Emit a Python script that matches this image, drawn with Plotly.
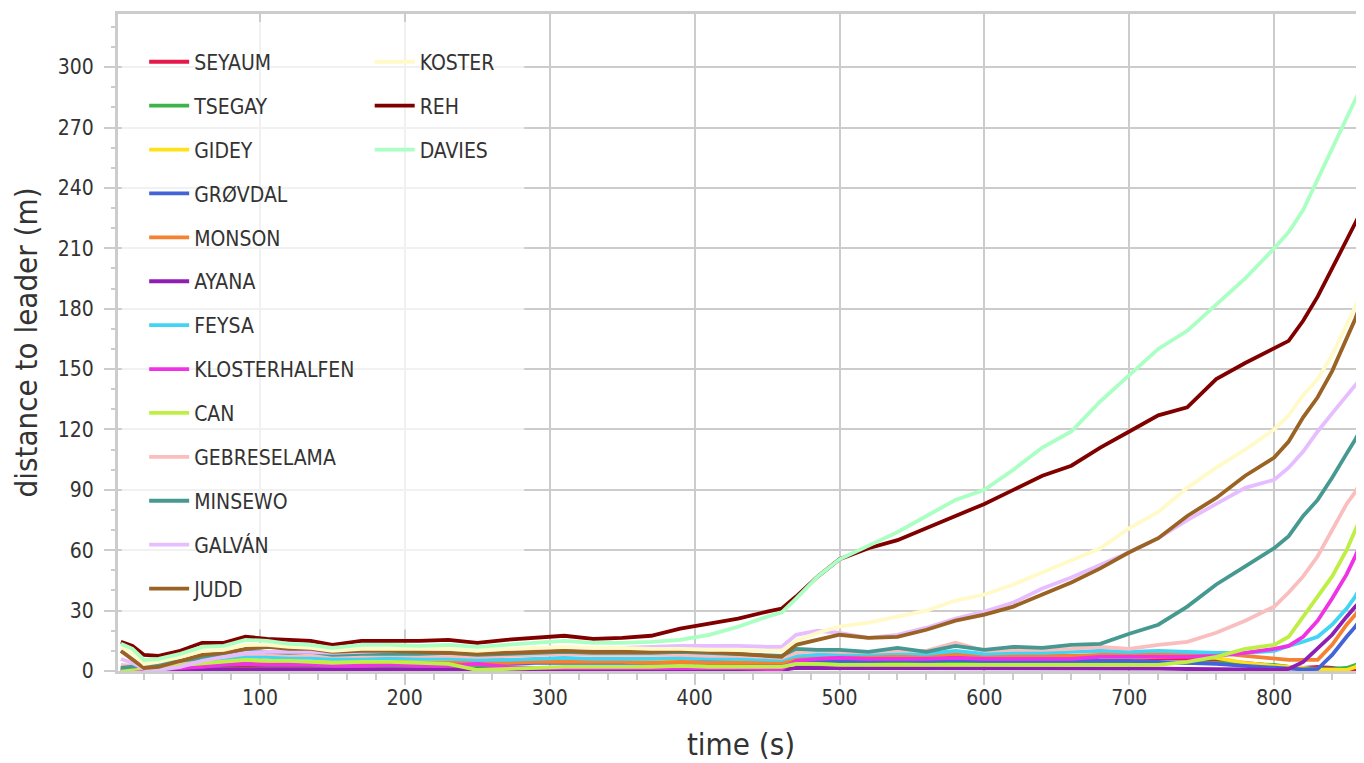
import plotly.graph_objects as go

time_s = [4, 12, 20, 30, 45, 60, 75, 90, 105, 120, 135, 150, 170, 190, 210, 230, 250, 270, 290, 310,
          330, 350, 370, 390, 410, 430, 450, 460, 470, 485, 500, 520, 540, 560, 580, 600, 620, 640, 660, 680,
          700, 720, 740, 760, 780, 800, 810, 820, 830, 840, 850, 856, 862]

runners = ["SEYAUM", "TSEGAY", "GIDEY", "GRØVDAL", "MONSON", "AYANA", "FEYSA", "KLOSTERHALFEN",
           "CAN", "GEBRESELAMA", "MINSEWO", "GALVÁN", "JUDD", "KOSTER", "REH", "DAVIES"]

seyaum = [1, 1, 0.5, 0.5, 1, 1.5, 1.5, 2, 2, 2, 2, 1.5, 1.5, 1.5, 1.5, 1.5, 1, 1, 1, 1,
          1, 1, 1, 1, 1, 1, 1, 1, 5, 5.5, 5.5, 5.5, 5.5, 5.5, 7, 5.5, 6, 5.5, 6, 6,
          6, 6.5, 6, 5, 4, 2.5, 2, 1.5, 2, 1.5, 0.5, 0, 0]
tsegay = [0.5, 0.5, 0.5, 0.5, 1, 1, 1, 1, 1, 1, 1, 1, 1, 1, 1, 1, 1.5, 1.5, 1.5, 1.5,
          2, 2, 2, 2, 2.5, 3, 3, 3, 3.5, 3.5, 3.5, 3.5, 3.5, 3.5, 4, 3.5, 3.5, 3.5, 3.5, 3.5,
          3.5, 4, 4, 4, 3.5, 3, 2, 1.5, 1, 1, 1.5, 3, 4]
gidey = [2, 2, 3, 2.5, 3, 4, 4.5, 5, 5, 5, 4.5, 4.5, 4.5, 5, 5, 5, 4.5, 4.5, 5, 5,
         5, 5, 5, 5, 5, 5, 4.5, 4.5, 7, 7.5, 7.5, 7, 7, 7, 9, 7, 7, 7, 7, 6.5,
         6.5, 7, 7.5, 6.5, 4, 2.5, 2, 1.5, 0.5, 0.3, 0.5, 2, 5]
grovdal = [0.5, 1, 1, 1.5, 2.5, 3, 3.5, 4, 4, 4, 3.5, 3.5, 3.5, 4, 4, 3.5, 3.5, 3.5, 4, 4,
           4, 4, 4, 4, 4.5, 4, 3.5, 3.5, 5, 5.5, 5, 5, 5.5, 5, 5.5, 5, 5, 5, 5, 5,
           5, 4.5, 4, 3.5, 2.5, 1.5, 1, 0.8, 1, 8, 17, 22, 28]
monson = [1, 1, 1, 1.5, 2.5, 3.5, 4, 4.5, 4.5, 4.5, 4, 4, 4, 4.5, 4, 4, 4, 4, 4.5, 4.5,
          4.5, 4.5, 4, 4.5, 4, 4, 4, 4, 6, 7, 7, 7.5, 7, 7, 8.5, 7, 7.5, 7.5, 7.5, 8,
          8.5, 8, 8.5, 9, 7.5, 6, 5.5, 5.5, 5.5, 13, 23, 28, 33]
ayana = [0.8, 0.8, 0.5, 0.5, 0.5, 0.5, 0.5, 0.5, 0.5, 0.5, 0.5, 0.5, 0.5, 0.5, 0.5, 0.5, 0.5, 0.5, 0.5, 0.5,
         0.5, 0.5, 0.5, 0.5, 0.5, 0.5, 0.5, 0.5, 1.5, 1.5, 1.5, 1.5, 1.2, 1.2, 1.2, 1.2, 1.2, 1.2, 1.2, 1.2,
         1.2, 1.2, 1, 1, 0.8, 0.5, 1, 4.5, 11, 18, 27, 32, 36]
feysa = [2, 2, 1.5, 2.5, 3.5, 5, 6, 7, 7, 6.5, 6.5, 6, 6, 6.5, 6, 6, 5.5, 5.5, 6, 6.5,
         6, 6, 6, 6.5, 6, 6, 5.5, 5.5, 7.5, 8, 8.5, 8.5, 9, 8.5, 10, 8.5, 9, 9, 9.5, 10,
         9.5, 10, 9.5, 9, 9, 10, 12.5, 14.5, 17, 23, 31, 37, 45]
klosterhalfen = [0.5, 0.5, 0.5, 1, 1.5, 2, 3, 3.5, 3, 3, 3, 2.5, 2.5, 3, 2.5, 2.5, 3.5, 2, 1.5, 1.5,
                 1.5, 1.5, 1.5, 1.5, 1.5, 1.5, 1, 1, 5, 6, 6.5, 6, 6, 6, 6.5, 6, 6, 6, 6, 7,
                 7, 7, 7, 7.5, 9, 11, 12.5, 17, 25, 36, 48, 57, 67]
can = [0.5, 1, 1.5, 2, 3, 4, 4.5, 5.5, 5, 5, 4.5, 4, 4.5, 4.5, 4, 3.5, 0.5, 1, 1.5, 2,
       2, 2, 2, 2.5, 2, 2, 2, 2, 3.5, 3.5, 3, 3, 3, 3, 3, 3, 3, 3, 3, 3,
       3, 3, 4.5, 7, 11, 13, 17, 27, 37, 47, 60, 70, 80]
gebreselama = [3, 2.5, 2, 3, 4.5, 6, 7, 8.5, 8.5, 8, 8, 7.5, 7.5, 8, 7.5, 7.5, 7, 7.5, 8, 8.5,
               8, 8, 8, 8, 7.5, 7.5, 7, 6.5, 9, 10, 9.5, 9.5, 10, 10, 14, 10, 10.5, 10.5, 11, 12,
               11, 13, 14.5, 19, 25, 32, 39, 47, 57, 70, 83, 89, 97]
minsewo = [1.5, 2, 2.5, 3.5, 5, 6.5, 8, 10, 9.5, 9, 9.5, 8, 8.5, 8.5, 8.5, 9, 8, 8.5, 9, 9.5,
           9, 9, 9, 9.5, 9, 8.5, 8, 7.5, 11, 10.5, 10.5, 9.5, 11.5, 9.5, 12.5, 10.5, 12, 11.5, 13, 13.5,
           18.5, 23, 32, 43, 52, 61, 67, 77, 85, 96, 108, 115, 123]
galvan = [6, 4, 1, 0.5, 2, 5, 7, 9, 9.5, 9.5, 9.5, 9, 9.5, 10, 10, 10, 10, 10.5, 11, 11.5,
          11, 11.5, 12, 12.5, 12.5, 12.5, 12, 12, 18, 20, 19, 16.5, 18, 21.5, 26, 29.5, 34, 41, 46.5, 52.5,
          59, 66, 75, 83, 91, 95, 101, 109, 119, 128, 137, 142, 147]
judd = [10, 6, 1.5, 2, 5, 8, 9, 11, 12, 11, 11, 9.5, 10, 10, 9.5, 9, 8.5, 9, 9.5, 10,
        9.5, 9.5, 9.5, 10, 9.5, 8.5, 7.5, 7, 13, 15.5, 18, 16.5, 17, 20.5, 25, 28, 32, 38, 44, 51,
        59, 66, 77, 86, 97, 106, 114, 126, 136, 149, 165, 175, 187]
koster = [12, 9, 3.5, 4.5, 7, 10, 10.5, 13, 13, 12, 11.5, 10, 11, 11, 11, 11, 10, 11, 11.5, 12,
          11.5, 11.5, 11, 11, 10.5, 10.5, 10, 10, 15, 19, 22, 24, 27, 30, 35, 38, 43, 49, 55, 61,
          71, 79, 91, 101, 110, 120, 127, 137, 145, 157, 172, 181, 192]
reh = [14.5, 12.5, 8, 7.5, 10, 14, 14, 17, 16, 15.5, 15, 13, 15, 15, 15, 15.5, 14, 15.5, 16.5, 17.5,
       16, 16.5, 17.5, 21, 23.5, 26, 29.5, 31, 37, 47, 55.5, 61, 65, 71, 77, 83, 90, 97, 102, 111,
       119, 127, 131, 145, 153, 160, 164, 174, 186, 200, 214, 222, 231]
davies = [13.5, 11, 5.5, 6, 8.5, 12, 12.5, 15.5, 15, 13.5, 13, 11.5, 13, 13, 12.5, 13, 12, 13, 14, 15,
          14, 14, 14.5, 15.5, 18, 22, 27, 29, 36, 47, 55.5, 62, 69, 77, 85, 90, 100, 111, 119, 134,
          147, 160, 169, 182, 195, 210, 218, 229, 244, 259, 275, 284, 293]

series = [seyaum, tsegay, gidey, grovdal, monson, ayana, feysa, klosterhalfen,
          can, gebreselama, minsewo, galvan, judd, koster, reh, davies]

colors = ["#e6194b", "#3cb44b", "#ffe119", "#4363d8", "#f58231", "#911eb4", "#42d4f4", "#f032e6",
          "#bfef45", "#fabebe", "#469990", "#e6beff", "#9a6324", "#fffac8", "#800000", "#aaffc3"]

x_ticks = [100, 200, 300, 400, 500, 600, 700, 800]
y_ticks = [0, 30, 60, 90, 120, 150, 180, 210, 240, 270, 300]

FONT = "DejaVu Sans Condensed, DejaVu Sans, sans-serif"
GRID = "#cccccc"

fig = go.Figure()
for i, (name, vals, col) in enumerate(zip(runners, series, colors)):
    fig.add_trace(go.Scatter(
        x=time_s, y=vals, mode="lines", name=name,
        line=dict(color=col, width=3.8),
        legendgroup=name,
        legend="legend" if i < 13 else "legend2",
    ))

legend_common = dict(
    font=dict(family=FONT, size=21, color="#333333"),
    bgcolor="rgba(0,0,0,0)",
    borderwidth=0,
    tracegroupgap=13.6,
    itemwidth=40,
    xanchor="left", yanchor="top",
    traceorder="grouped",
)

# the page body has an 8px default margin: size and margins compensate so nothing overflows
fig.update_layout(
    width=1356, height=755,
    margin=dict(l=110, r=0, t=6, b=92, autoexpand=False),
    plot_bgcolor="white", paper_bgcolor="white",
    font=dict(family=FONT, size=21, color="#333333"),
    xaxis=dict(
        range=[2, 862], tickvals=x_ticks, ticks="outside", ticklen=11, tickwidth=2, tickcolor=GRID,
        showgrid=True, gridcolor=GRID, gridwidth=2, zeroline=False, automargin=False,
        showline=True, linecolor=GRID, linewidth=3, mirror=True,
        minor=dict(dtick=20, tick0=0, ticks="outside", ticklen=6, tickwidth=2, tickcolor=GRID, showgrid=False),
        title=dict(text="time (s)", font=dict(size=31, family=FONT, color="#333333"), standoff=25),
        tickfont=dict(size=21, family=FONT, color="#333333"),
        ticklabelstandoff=-5,
    ),
    yaxis=dict(
        range=[0, 326.4], tickvals=y_ticks, ticks="outside", ticklen=11, tickwidth=2, tickcolor=GRID,
        showgrid=True, gridcolor=GRID, gridwidth=2, zeroline=False, automargin=False,
        showline=True, linecolor=GRID, linewidth=3,
        minor=dict(dtick=10, tick0=0, ticks="outside", ticklen=4, tickwidth=2, tickcolor=GRID, showgrid=False),
        title=dict(text="distance to leader (m)", font=dict(size=31, family=FONT, color="#333333"), standoff=11),
        tickfont=dict(size=21, family=FONT, color="#333333"),
        ticklabelstandoff=6,
    ),
    legend=dict(x=0.021, y=0.958, **legend_common),
    legend2=dict(x=0.202, y=0.958, **legend_common),
    shapes=[dict(type="rect", xref="paper", yref="paper", x0=0.003, x1=0.326, y0=0.063, y1=0.988,
                 fillcolor="rgba(255,255,255,0.72)", line=dict(width=0), layer="above")],
)

fig.write_html("out.html")
